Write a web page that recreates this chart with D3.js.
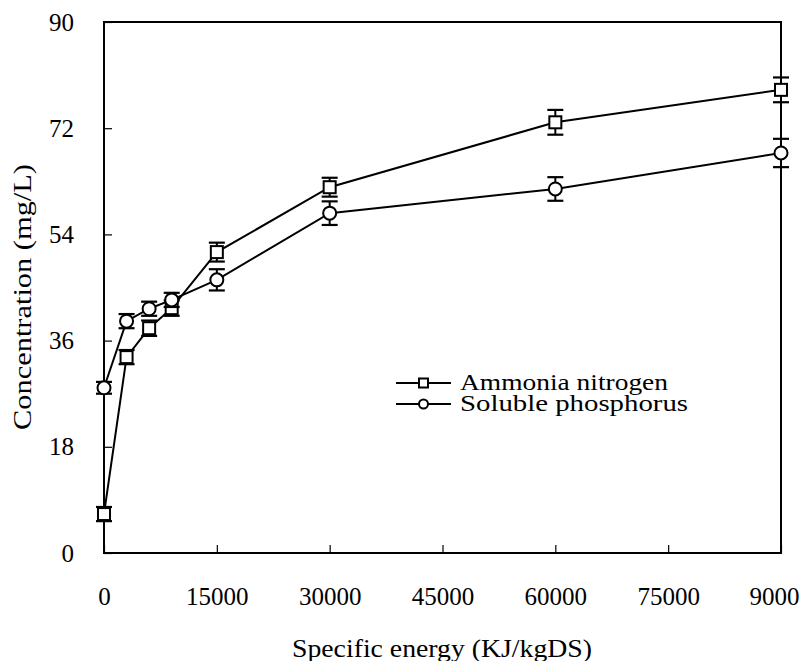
<!DOCTYPE html>
<html>
<head>
<meta charset="utf-8">
<script src="https://cdn.jsdelivr.net/npm/d3@7"></script>
<style>
  html, body { margin: 0; padding: 0; background: #fff; }
  svg { display: block; }
</style>
</head>
<body>
<svg id="chart" width="805" height="661"></svg>
<script>
// ---- data ----
const energy = [0, 3000, 6000, 9000, 15000, 30000, 60000, 90000];
const ammonia = [6.6, 33.2, 38.1, 41.5, 51.0, 62.0, 73.0, 78.5];
const ammoniaErr = [1.2, 1.2, 1.3, 1.3, 1.6, 1.6, 2.1, 2.1];
const phosphorus = [28.0, 39.3, 41.4, 42.9, 46.3, 57.6, 61.7, 67.8];
const phosphorusErr = [1.0, 1.2, 1.2, 1.2, 1.8, 2.0, 2.0, 2.4];
const xTicks = [0, 15000, 30000, 45000, 60000, 75000, 90000];
const xTickLabels = ["0", "15000", "30000", "45000", "60000", "75000", "9000"];
const yTicks = [0, 18, 36, 54, 72, 90];
const seriesNames = ["Ammonia nitrogen", "Soluble phosphorus"];

const FONT = '"Liberation Serif"';
const svg = d3.select("#chart");
const L = 104, R = 781, T = 22, B = 553;
const x = d3.scaleLinear().domain([0, 90000]).range([L, R]);
const y = d3.scaleLinear().domain([0, 90]).range([B, T]);

// frame
svg.append("rect").attr("x", L).attr("y", T).attr("width", R - L).attr("height", B - T)
  .attr("fill", "none").attr("stroke", "#000").attr("stroke-width", 2);

// x axis (ticks inward)
const xAxis = d3.axisBottom(x).tickValues(xTicks).tickSizeInner(-8).tickSizeOuter(0)
  .tickFormat((d, i) => xTickLabels[i]).tickPadding(34);
const gx = svg.append("g").attr("transform", `translate(0,${B})`).call(xAxis)
  .attr("font-family", null).attr("font-size", null);
gx.select(".domain").remove();
gx.selectAll(".tick line").attr("stroke", "#000").attr("stroke-width", 1.2);
gx.selectAll(".tick text").style("font-family", FONT).style("font-size", "25px").attr("fill", "#000");
gx.selectAll(".tick text").filter((d, i) => i === xTicks.length - 1).attr("dx", -7);

// y axis (ticks inward)
const yAxis = d3.axisLeft(y).tickValues(yTicks).tickSizeInner(-8).tickSizeOuter(0).tickPadding(30);
const gy = svg.append("g").attr("transform", `translate(${L},0)`).call(yAxis)
  .attr("font-family", null).attr("font-size", null);
gy.select(".domain").remove();
gy.selectAll(".tick line").attr("stroke", "#000").attr("stroke-width", 1.2);
gy.selectAll(".tick text").style("font-family", FONT).style("font-size", "25px").attr("fill", "#000");

// titles
svg.append("text").attr("x", 442).attr("y", 657).attr("text-anchor", "middle")
  .style("font-family", FONT).style("font-size", "26px").attr("textLength", 300)
  .attr("lengthAdjust", "spacingAndGlyphs").text("Specific energy (KJ/kgDS)");
svg.append("text").attr("transform", "translate(31,297) rotate(-90)").attr("text-anchor", "middle")
  .style("font-family", FONT).style("font-size", "26px").attr("textLength", 266)
  .attr("lengthAdjust", "spacingAndGlyphs").text("Concentration (mg/L)");

const line = d3.line().x(d => x(d[0])).y(d => y(d[1]));
const capW = 8;

function drawSeries(vals, errs, shape) {
  const pts = energy.map((e, i) => [e, vals[i], errs[i]]);
  const g = svg.append("g");
  const eb = g.selectAll(".eb").data(pts).enter().append("g");
  eb.append("line").attr("x1", d => x(d[0])).attr("x2", d => x(d[0]))
    .attr("y1", d => y(d[1] - d[2])).attr("y2", d => y(d[1] + d[2]))
    .attr("stroke", "#000").attr("stroke-width", 2);
  [-1, 1].forEach(s => {
    eb.append("line").attr("x1", d => x(d[0]) - capW).attr("x2", d => x(d[0]) + capW)
      .attr("y1", d => y(d[1] + s * d[2])).attr("y2", d => y(d[1] + s * d[2]))
      .attr("stroke", "#000").attr("stroke-width", 2.2);
  });
  g.append("path").datum(pts).attr("d", line).attr("fill", "none")
    .attr("stroke", "#000").attr("stroke-width", 2);
  if (shape === "square") {
    g.selectAll(".m").data(pts).enter().append("rect")
      .attr("x", d => x(d[0]) - 6).attr("y", d => y(d[1]) - 6)
      .attr("width", 12).attr("height", 12)
      .attr("fill", "#fff").attr("stroke", "#000").attr("stroke-width", 2);
  } else {
    g.selectAll(".m").data(pts).enter().append("circle")
      .attr("cx", d => x(d[0])).attr("cy", d => y(d[1])).attr("r", 6.5)
      .attr("fill", "#fff").attr("stroke", "#000").attr("stroke-width", 2);
  }
}
drawSeries(ammonia, ammoniaErr, "square");
drawSeries(phosphorus, phosphorusErr, "circle");

// legend
const legY = [383, 404];
const legLen = [208, 228];
seriesNames.forEach((name, i) => {
  const g = svg.append("g");
  g.append("line").attr("x1", 396).attr("x2", 451).attr("y1", legY[i]).attr("y2", legY[i])
    .attr("stroke", "#000").attr("stroke-width", 2);
  if (i === 0) {
    g.append("rect").attr("x", 419).attr("y", legY[i] - 4.5).attr("width", 9).attr("height", 9)
      .attr("fill", "#fff").attr("stroke", "#000").attr("stroke-width", 2);
  } else {
    g.append("circle").attr("cx", 423.5).attr("cy", legY[i]).attr("r", 4.5)
      .attr("fill", "#fff").attr("stroke", "#000").attr("stroke-width", 2);
  }
  g.append("text").attr("x", 460).attr("y", legY[i] + 7)
    .style("font-family", FONT).style("font-size", "23px")
    .attr("textLength", legLen[i]).attr("lengthAdjust", "spacingAndGlyphs")
    .text(name);
});
</script>
</body>
</html>
